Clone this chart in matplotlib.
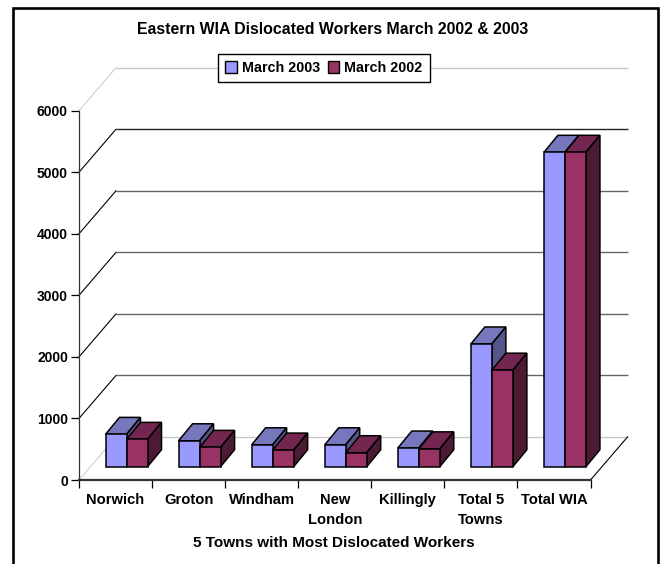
import matplotlib
matplotlib.use("Agg")
import matplotlib.pyplot as plt
from matplotlib.patches import Patch, Polygon, Rectangle

plt.rcParams['font.family'] = ['Liberation Sans', 'DejaVu Sans']
plt.rcParams['font.weight'] = 'bold'

title = "Eastern WIA Dislocated Workers March 2002 & 2003"
xlabel = "5 Towns with Most Dislocated Workers"
categories = ["Norwich", "Groton", "Windham", "New\nLondon", "Killingly", "Total 5\nTowns", "Total WIA"]
march_2003 = [525, 421, 356, 356, 303, 1994, 5108]
march_2002 = [444, 314, 270, 227, 290, 1568, 5108]
y_ticks = [0, 1000, 2000, 3000, 4000, 5000, 6000]
series = [("March 2003", march_2003, "#9999FF", "#7777BD", "#55558A"),
          ("March 2002", march_2002, "#993366", "#732650", "#4D1A33")]

W, H = 663, 564
fig = plt.figure(figsize=(W / 100, H / 100), dpi=100, facecolor="white")

# pixel geometry of the plot box
L, R, T, B = 79, 590.5, 110.7, 480
ax = fig.add_axes([L / W, 1 - B / H, (R - L) / W, (B - T) / H])
ax.set_xlim(0, len(categories))
ax.set_ylim(0, 6000)
ax.patch.set_alpha(0)
px = (R - L) / len(categories)      # pixels per category
py = (B - T) / 6000                 # pixels per unit

def dx(p):
    return p / px

def dy(p):
    return p / py

wall_dx, wall_dy = dx(37), dy(43)

# outer frame of the chart (open at the bottom)
fig.add_artist(plt.Line2D([13 / W, 13 / W, 658 / W, 658 / W],
                          [0, 1 - 8 / H, 1 - 8 / H, 0],
                          color="black", lw=1.9, solid_joinstyle="miter"))

# back wall gridlines and their diagonals
for v in y_ticks:
    edge = v in (0, 6000)
    col = "#C8C8C8" if edge else ("#222222" if v == 5000 else "#666666")
    ax.plot([wall_dx, len(categories) + wall_dx], [v + wall_dy, v + wall_dy],
            color=col, lw=1.0, clip_on=False, zorder=1, solid_capstyle="butt")
    ax.plot([0, wall_dx], [v, v + wall_dy], color="#D0D0D0" if edge else "black",
            lw=0.8, clip_on=False, zorder=1)

# floor right edge
ax.plot([len(categories), len(categories) + wall_dx], [0, wall_dy], color="black",
        lw=0.8, clip_on=False, zorder=1)

# bars
bar_w = 21 / px
bar_dx, bar_dy = dx(14), dy(17)
off_x, off_y = (105.5 - 79) / px, dy(13.3)
for i in range(len(categories)):
    for j, (name, vals, front, top, side) in enumerate(series):
        v = vals[i]
        x0 = i + off_x + j * bar_w
        x1 = x0 + bar_w
        y0 = off_y
        y1 = off_y + v
        kw = dict(edgecolor="black", lw=1.1, clip_on=False, zorder=3 + j, joinstyle="miter")
        ax.add_patch(Polygon([(x0, y1), (x1, y1), (x1 + bar_dx, y1 + bar_dy), (x0 + bar_dx, y1 + bar_dy)],
                             facecolor=top, **kw))
        ax.add_patch(Polygon([(x1, y0), (x1 + bar_dx, y0 + bar_dy), (x1 + bar_dx, y1 + bar_dy), (x1, y1)],
                             facecolor=side, **kw))
        ax.add_patch(Rectangle((x0, y0), bar_w, v, facecolor=front, **kw))

# axes
for s in ("top", "right"):
    ax.spines[s].set_visible(False)
ax.spines["left"].set_linewidth(0.9)
ax.spines["left"].set_color("#333333")
ax.spines["bottom"].set_linewidth(1.6)
ax.spines["bottom"].set_color("#333333")
ax.set_yticks(y_ticks)
ax.tick_params(axis="y", length=6, width=0.9, labelsize=10, pad=2)
ax.set_xticks(range(len(categories) + 1))
ax.set_xticklabels([])
ax.tick_params(axis="x", which="major", length=6, width=0.9)
ax.set_xticks([i + 0.5 for i in range(len(categories))], minor=True)
ax.set_xticklabels(categories, minor=True, fontsize=10.6, linespacing=1.55)
ax.tick_params(axis="x", which="minor", length=0, pad=9.5)

fig.text(332.5 / W, 1 - 29 / H, title, ha="center", va="center", fontsize=11.4, fontweight="bold")
fig.text(333.5 / W, 1 - 543 / H, xlabel, ha="center", va="center", fontsize=11, fontweight="bold")

handles = [Patch(facecolor=s[2], edgecolor="black", lw=1, label=s[0]) for s in series]
leg = fig.legend(handles=handles, ncol=2, loc="center", bbox_to_anchor=(324 / W, 1 - 68 / H),
                 fontsize=10.3, frameon=True, fancybox=False, framealpha=1, edgecolor="black",
                 handlelength=0.8, handleheight=0.9, handletextpad=0.35, columnspacing=0.55,
                 borderpad=0.5, borderaxespad=0)
leg.get_frame().set_linewidth(1)
leg.set_zorder(10)

fig.savefig("out.png", dpi=100)
